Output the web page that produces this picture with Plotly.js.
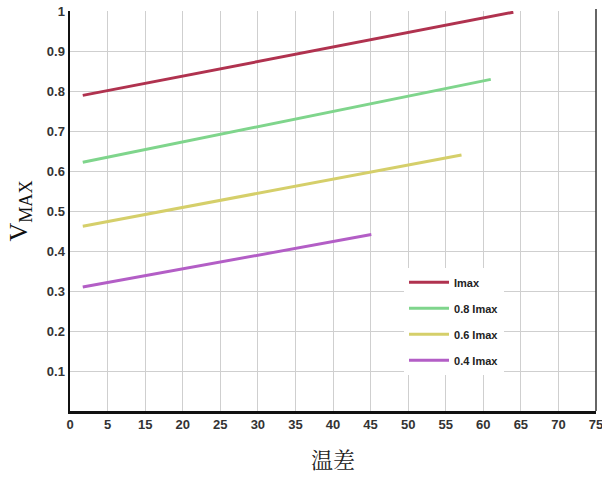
<!DOCTYPE html>
<html>
<head>
<meta charset="utf-8">
<script src="https://cdn.plot.ly/plotly-3.0.1.min.js"></script>
<style>html,body{margin:0;padding:0;background:#fff;}#chart{width:602px;height:480px;}</style>
</head>
<body>
<div id="chart"></div>
<script>
// Series names
const seriesNames = ['Imax', '0.8 Imax', '0.6 Imax', '0.4 Imax'];
// x positions (grid units, one gridline every 5) of each line's start and end
const xImax = [1.7, 59.0];
const x08 = [1.7, 56.0];
const x06 = [1.7, 52.1];
const x04 = [1.7, 40.1];
// VMAX values at start and end
const yImax = [0.789, 0.997];
const y08 = [0.622, 0.829];
const y06 = [0.462, 0.640];
const y04 = [0.310, 0.441];
// Tick labels as printed on the reference
const xTickVals = [0, 5, 10, 15, 20, 25, 30, 35, 40, 45, 50, 55, 60, 65, 70];
const xTickText = ['0', '5', '15', '20', '25', '30', '35', '40', '45', '50', '55', '60', '65', '70', '75'];
const yTickVals = [0.1, 0.2, 0.3, 0.4, 0.5, 0.6, 0.7, 0.8, 0.9, 1.0];
const yTickText = ['0.1', '0.2', '0.3', '0.4', '0.5', '0.6', '0.7', '0.8', '0.9', '1'];

const colors = ['#b0324f', '#7fd58c', '#d5cf6a', '#b35ec6'];
const xs = [xImax, x08, x06, x04];
const ys = [yImax, y08, y06, y04];

const traces = seriesNames.map((n, i) => ({
  type: 'scatter', mode: 'lines', name: n,
  x: xs[i], y: ys[i], legendgroup: 'g' + i,
  line: {color: colors[i], width: 3}
}));

const tickFont = {family: 'Liberation Sans, Arial, sans-serif', size: 13, color: '#333', weight: 'bold'};

const layout = {
  width: 602, height: 480,
  margin: {l: 70, r: 6, t: 11, b: 69},
  paper_bgcolor: '#fff', plot_bgcolor: '#fff',
  showlegend: true,
  legend: {
    x: 0.635, y: 0.358, xanchor: 'left', yanchor: 'top',
    bgcolor: '#fff', borderwidth: 0, itemwidth: 40,
    traceorder: 'grouped', tracegroupgap: 7,
    font: {family: 'Liberation Sans Narrow, Liberation Sans, Arial, sans-serif', size: 11, color: '#222', weight: 'bold'}
  },
  xaxis: {
    range: [0, 70], tickvals: xTickVals, ticktext: xTickText,
    ticklabeloverflow: 'allow',
    showgrid: true, gridcolor: '#cfcfcf', gridwidth: 1,
    showline: true, linecolor: '#111', linewidth: 2.5,
    ticks: '', zeroline: false, tickfont: tickFont,
    title: {text: '温差', standoff: 22,
      font: {family: 'Noto Serif CJK SC, Noto Sans CJK SC, serif', size: 22, color: '#222'}}
  },
  yaxis: {
    range: [0, 1], tickvals: yTickVals, ticktext: yTickText,
    ticklabeloverflow: 'allow',
    showgrid: true, gridcolor: '#cfcfcf', gridwidth: 1,
    showline: true, linecolor: '#111', linewidth: 2.5,
    ticks: '', zeroline: false, tickfont: tickFont,
    title: {text: 'V<sub>MAX</sub>', standoff: 12,
      font: {family: 'Liberation Serif, Times New Roman, serif', size: 26, color: '#111'}}
  },
  shapes: [
    {type: 'line', xref: 'paper', yref: 'paper', x0: 1, x1: 1, y0: 0, y1: 1.005,
     line: {color: '#333', width: 1.5}, layer: 'above'}
  ]
};

Plotly.newPlot('chart', traces, layout, {displayModeBar: false, staticPlot: true});
</script>
</body>
</html>
